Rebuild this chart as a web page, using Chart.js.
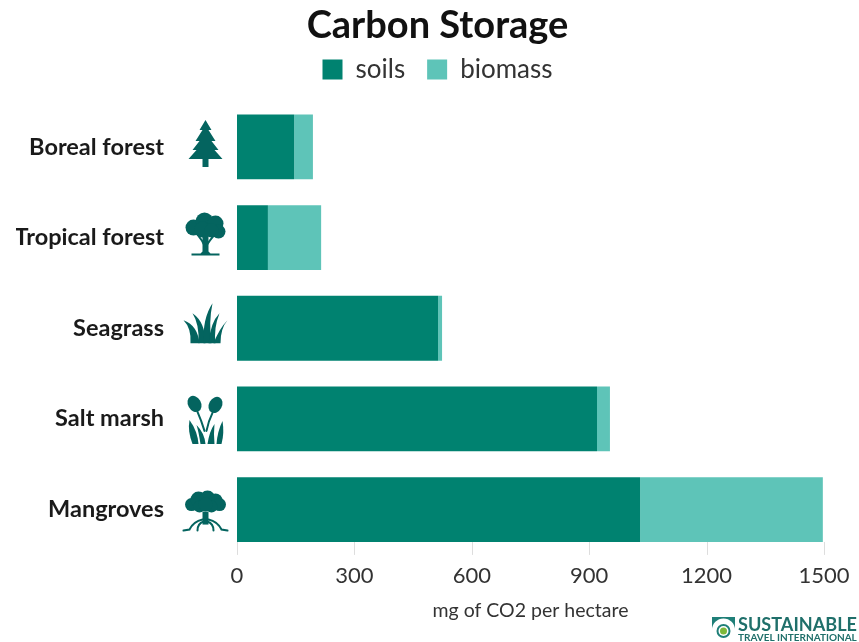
<!DOCTYPE html>
<html>
<head>
<meta charset="utf-8">
<title>Carbon Storage</title>
<script src="https://cdn.jsdelivr.net/npm/chart.js@4"></script>
<style>
    body { margin: 0; background: #fff; }
    canvas { display: block; }
</style>
</head>
<body>
<canvas id="carbonChart" width="859" height="642"></canvas>
<script>
const categories = ["Boreal forest", "Tropical forest", "Seagrass", "Salt marsh", "Mangroves"];
const soils = [146, 79, 514, 920, 1030];
const biomass = [48, 136, 10, 33, 467];
const xTicks = [0, 300, 600, 900, 1200, 1500];

const SOIL_COLOR = "#008270";
const BIOMASS_COLOR = "#5EC4B8";
const ICON_COLOR = "#04645F";
const FONT = "Lato, 'Open Sans', sans-serif";

// Icons are drawn around the centre of each category band
const icons = [
    { // pine
        fill: ["M0-27L6-17L3-17L10-6L6-6L13 3L9 3L17 12L3 12L3 20L-3 20L-3 12L-17 12L-9 3L-13 3L-6-6L-10-6L-3-17L-6-17Z"]
    },
    { // broadleaf tree
        circles: [[-12, -10, 8], [-1, -16, 9], [10, -14, 8], [13, -6, 7], [-3, -8, 8], [6, -7, 7]],
        fill: ["M-3-4L3-4L3 14L5 16L14 16L14 18L-14 18L-14 16L-5 16L-3 14Z"],
        stroke: ["M-8 -3Q-3 3 -1 8", "M9 -3Q4 3 1 8"]
    },
    { // grass
        fill: [
            "M-15 15Q-14 0-22-8Q-8-3-6 15Z",
            "M-7 15Q-6-4-13-15Q0-6 0 15Z",
            "M-2 15Q-3-10 7-25Q3-6 6 15Z",
            "M3 15Q5-6 14-15Q8 0 10 15Z",
            "M8 15Q14 0 22-8Q15 0 15 15Z"
        ]
    },
    { // salt marsh
        ellipses: [[-11, -15, 6.5, 8.5, -0.5], [10, -14, 6.5, 8.5, 0.5]],
        stroke: ["M-8-7Q-4 2-1 12", "M7-6Q3 2 1 12"],
        fill: [
            "M-13 25Q-18 12-16 1Q-8 12-7 25Z",
            "M-5 25Q-7 12-9 6Q-1 14 0 25Z",
            "M2 25Q4 12 9 5Q8 14 9 25Z",
            "M11 25Q12 12 17 2Q19 14 16 25Z"
        ]
    },
    { // mangrove
        circles: [[-14, -5, 6.5], [-7, -10, 8], [2, -11, 8], [10, -9, 7], [14, -5, 6.5], [-6, -3, 6], [6, -3, 6], [0, -5, 7]],
        fill: ["M-3 2L3 2L3 15L-3 15Z"],
        stroke: ["M-3 10Q-12 12-16 20L-22 21", "M3 10Q12 12 16 20L22 21", "M-2 12Q-8 14-8 21", "M2 12Q8 14 8 21"]
    }
];

// Legend gap between items is bigger than the room above and below it
const legendHeightPlugin = {
    id: "legendHeight",
    beforeLayout(chart) {
        const legend = chart.legend;
        if (legend.fitWrapped) return;
        const origFit = legend.fit;
        legend.fit = function () {
            origFit.call(this);
            this.height = 67;
        };
        legend.fitWrapped = true;
    }
};

// Tick marks hang below the last bar, no grid behind the bars
const axisTicksPlugin = {
    id: "axisTicks",
    beforeDatasetsDraw(chart) {
        const { ctx, scales: { x }, chartArea } = chart;
        const lastBar = chart.getDatasetMeta(0).data[categories.length - 1];
        ctx.save();
        ctx.strokeStyle = "#DDDDDD";
        ctx.lineWidth = 1;
        x.ticks.forEach(t => {
            const px = Math.round(x.getPixelForValue(t.value)) + 0.5;
            ctx.beginPath();
            ctx.moveTo(px, lastBar.y + lastBar.height / 2);
            ctx.lineTo(px, chartArea.bottom);
            ctx.stroke();
        });
        ctx.restore();
    }
};

const iconPlugin = {
    id: "icons",
    afterDatasetsDraw(chart) {
        const { ctx, scales: { y } } = chart;
        categories.forEach((cat, i) => {
            const icon = icons[i];
            ctx.save();
            ctx.translate(205.5, y.getPixelForValue(i));
            ctx.fillStyle = ICON_COLOR;
            ctx.strokeStyle = ICON_COLOR;
            ctx.lineCap = "round";
            ctx.lineWidth = 2;
            (icon.circles || []).forEach(c => {
                ctx.beginPath();
                ctx.arc(c[0], c[1], c[2], 0, Math.PI * 2);
                ctx.fill();
            });
            (icon.ellipses || []).forEach(e => {
                ctx.beginPath();
                ctx.ellipse(e[0], e[1], e[2], e[3], e[4], 0, Math.PI * 2);
                ctx.fill();
            });
            (icon.fill || []).forEach(p => ctx.fill(new Path2D(p)));
            (icon.stroke || []).forEach(p => ctx.stroke(new Path2D(p)));
            ctx.restore();
        });

        // Logo in the bottom right corner
        ctx.save();
        ctx.fillStyle = "#1F7F78";
        ctx.beginPath();
        ctx.moveTo(712, 617);
        ctx.lineTo(735, 617);
        ctx.lineTo(735, 630);
        ctx.arc(723.5, 630, 11.5, 0, Math.PI, true);
        ctx.closePath();
        ctx.fill();
        ctx.fillStyle = "#FFFFFF";
        ctx.beginPath();
        ctx.arc(723.5, 630, 9, 0, Math.PI * 2);
        ctx.fill();
        ctx.fillStyle = "#1F7F78";
        ctx.beginPath();
        ctx.arc(723.5, 631, 7, 0, Math.PI * 2);
        ctx.fill();
        ctx.fillStyle = "#FFFFFF";
        ctx.beginPath();
        ctx.arc(723.5, 631, 5, 0, Math.PI * 2);
        ctx.fill();
        ctx.fillStyle = "#7DB83A";
        ctx.beginPath();
        ctx.arc(723.5, 631, 3.5, 0, Math.PI * 2);
        ctx.fill();
        ctx.fillStyle = "#1F6F6A";
        ctx.textAlign = "left";
        ctx.textBaseline = "alphabetic";
        ctx.font = "bold 19px " + FONT;
        ctx.fillText("SUSTAINABLE", 738, 631, 119);
        ctx.font = "bold 10px " + FONT;
        ctx.fillText("TRAVEL INTERNATIONAL", 738, 641, 119);
        ctx.restore();
    }
};

new Chart(document.getElementById("carbonChart").getContext("2d"), {
    type: "bar",
    data: {
        labels: categories,
        datasets: [
            { label: "soils", data: soils, backgroundColor: SOIL_COLOR },
            { label: "biomass", data: biomass, backgroundColor: BIOMASS_COLOR }
        ]
    },
    options: {
        indexAxis: "y",
        responsive: false,
        animation: false,
        layout: { padding: { left: 16, right: 0, top: 3, bottom: 18 } },
        datasets: { bar: { barPercentage: 0.715, categoryPercentage: 1 } },
        plugins: {
            title: {
                display: true,
                text: "Carbon Storage",
                color: "#111111",
                font: { family: FONT, size: 38, weight: "bold" },
                padding: { top: 0, bottom: -14 }
            },
            legend: {
                display: true,
                labels: {
                    boxWidth: 20,
                    boxHeight: 20,
                    padding: 22,
                    color: "#333333",
                    font: { family: FONT, size: 26 }
                }
            },
            tooltip: { enabled: false }
        },
        scales: {
            x: {
                stacked: true,
                min: 0,
                max: 1500,
                afterBuildTicks(axis) { axis.ticks = xTicks.map(v => ({ value: v })); },
                grid: { display: false },
                border: { display: false },
                ticks: {
                    color: "#333333",
                    font: { family: FONT, size: 22 },
                    padding: 0,
                    maxRotation: 0,
                    callback: v => String(v)
                },
                title: {
                    display: true,
                    text: "mg of CO2 per hectare",
                    color: "#333333",
                    font: { family: FONT, size: 19.5 },
                    padding: { top: 10, bottom: 0 }
                }
            },
            y: {
                stacked: true,
                afterFit(axis) { axis.width = 221; },
                grid: { display: false, tickLength: 0 },
                border: { display: false },
                ticks: { color: "#1A1A1A", font: { family: FONT, size: 23.5, weight: "bold" }, padding: 73 }
            },
            // empty axis, only keeps the plot clear of the right edge so the title stays centred on the page
            yRight: {
                axis: "y",
                type: "linear",
                position: "right",
                afterFit(axis) { axis.width = 35; },
                grid: { display: false },
                border: { display: false },
                ticks: { display: false }
            }
        }
    },
    plugins: [legendHeightPlugin, axisTicksPlugin, iconPlugin]
});
</script>
</body>
</html>
